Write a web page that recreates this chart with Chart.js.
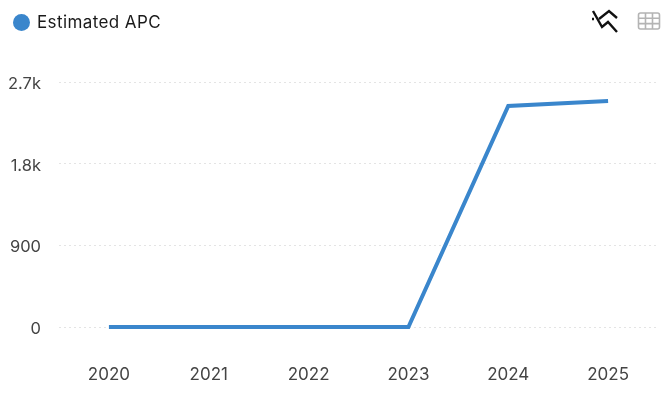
<!DOCTYPE html>
<html>
<head>
<meta charset="utf-8">
<script src="https://cdn.jsdelivr.net/npm/chart.js@4"></script>
<style>
  html, body { margin: 0; padding: 0; background: #fff; }
  #wrap { position: relative; width: 661px; height: 405px; overflow: hidden; font-family: Inter, "Noto Sans", sans-serif; }
  #plot { position: absolute; left: 0; top: 0; }
  #legend { position: absolute; left: 13px; top: 13px; height: 18px; display: flex; align-items: center; font-size: 17px; letter-spacing: 0.4px; color: #1a1a1a; }
  #legend i { width: 17px; height: 17px; border-radius: 50%; background: #3a86cc; margin-right: 7px; display: block; }
  .icono { position: absolute; }
</style>
</head>
<body>
<div id="wrap">
  <canvas id="plot" width="661" height="405"></canvas>
  <div id="legend"><i></i><span id="legendText"></span></div>
  <svg class="icono" style="left:590px;top:8px" width="30" height="26" viewBox="0 0 30 26" fill="none" stroke="#111" stroke-width="2.4">
    <path d="M3 3 L12 19 L18 14 L27 24"/>
    <path d="M2 11 L4 11"/>
    <path d="M9 11 L19 3 L27 10"/>
  </svg>
  <svg class="icono" style="left:637px;top:11px" width="24" height="20" viewBox="0 0 24 20" fill="none" stroke="#b4b4b4" stroke-width="1.6">
    <rect x="1.5" y="2" width="21" height="16" rx="2"/>
    <path d="M1.5 7.3 H22.5 M1.5 12.6 H22.5 M8.5 2 V18 M15.5 2 V18"/>
  </svg>
</div>
<script>
const anios = ['2020', '2021', '2022', '2023', '2024', '2025'];
const estimatedAPC = [0, 0, 0, 0, 2435, 2490];
const valoresTicks = [0, 900, 1800, 2700];
const etiquetasTicks = ['0', '900', '1.8k', '2.7k'];
const nombreSerie = 'Estimated APC';

document.getElementById('legendText').textContent = nombreSerie;

let config = {
  type: 'line',
  data: {
    labels: anios,
    datasets: [{
      label: nombreSerie,
      data: estimatedAPC,
      borderColor: '#3a86cc',
      borderWidth: 4,
      pointRadius: 0,
      tension: 0,
      clip: false
    }]
  },
  options: {
    responsive: false,
    animation: false,
    layout: { padding: { top: 82, right: 3, left: 0, bottom: 0 } },
    plugins: { legend: { display: false }, tooltip: { enabled: false } },
    scales: {
      x: {
        offset: true,
        border: { display: false },
        grid: { display: false },
        ticks: { color: '#444', font: { family: 'Inter', size: 17 }, padding: 30, maxRotation: 0 },
        afterFit: (scale) => { scale.height = 78; }
      },
      y: {
        min: 0,
        max: 2700,
        border: { display: false, dash: [2, 3] },
        afterBuildTicks: (scale) => { scale.ticks = valoresTicks.map(v => ({ value: v })); },
        grid: { color: '#e4e4e4', lineWidth: 1, drawTicks: false },
        ticks: {
          color: '#444',
          font: { family: 'Inter', size: 16.5 },
          padding: 18,
          labelOffset: 2,
          callback: (v) => etiquetasTicks[valoresTicks.indexOf(v)]
        },
        afterFit: (scale) => { scale.width = 59; }
      }
    }
  }
};

let chart1 = new Chart(document.getElementById('plot'), config);
</script>
</body>
</html>
